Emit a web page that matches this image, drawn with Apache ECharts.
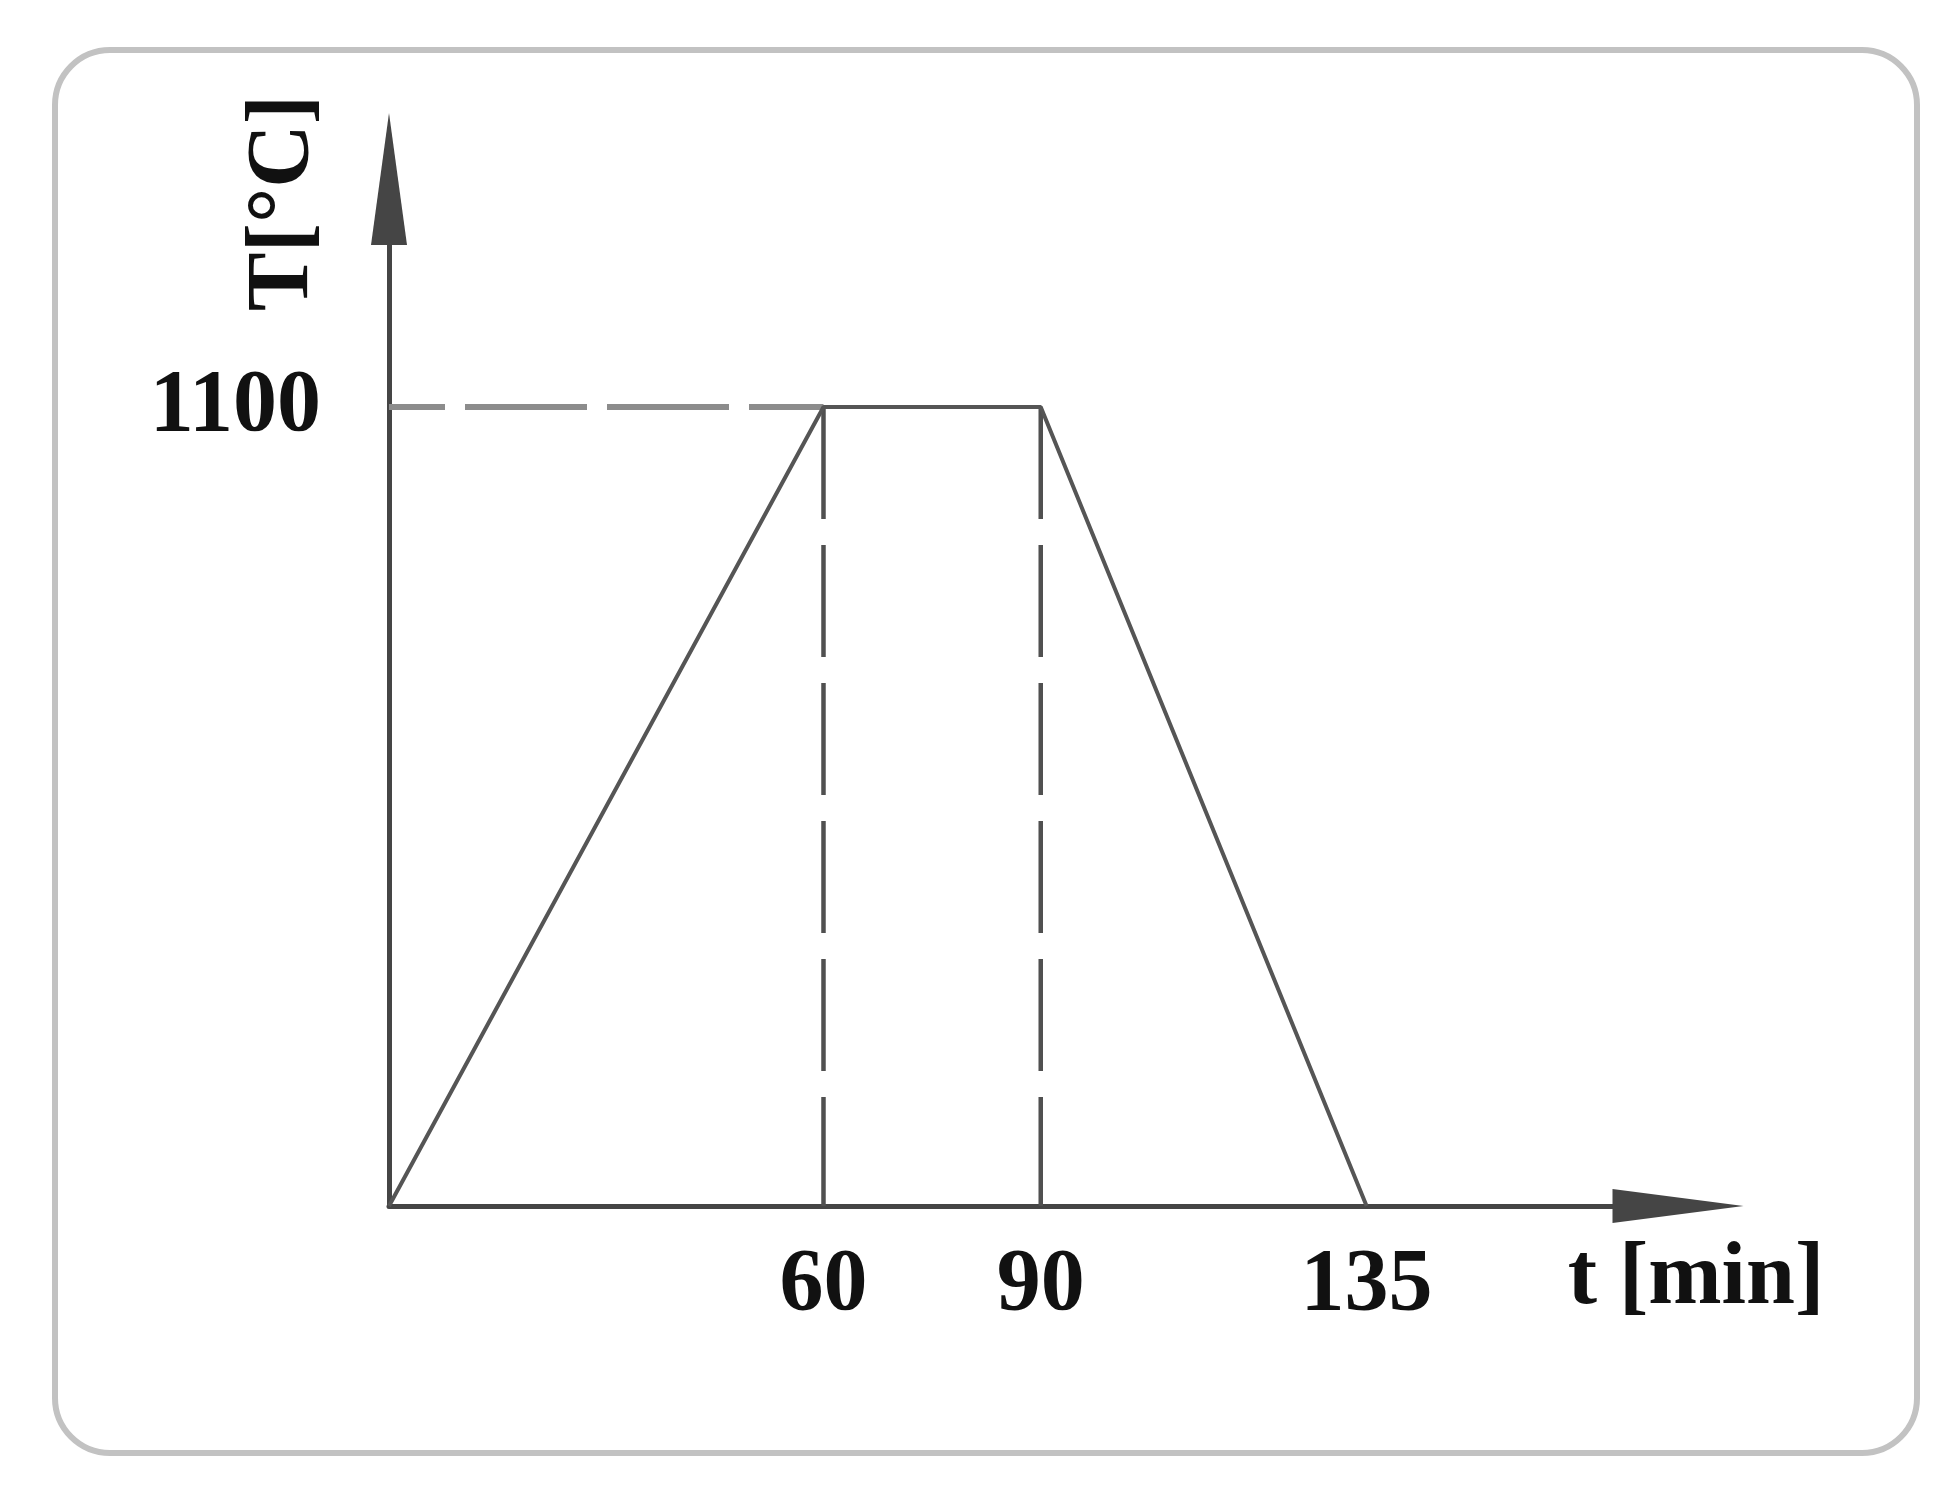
<!DOCTYPE html>
<html>
<head>
<meta charset="utf-8">
<title>T[°C] / t [min]</title>
<script src="https://cdn.jsdelivr.net/npm/echarts@6/dist/echarts.min.js"></script>
<style>
  html, body { margin: 0; padding: 0; background: #fff; }
  #chart { width: 1952px; height: 1511px; }
</style>
</head>
<body>
<div id="chart"></div>
<script>
// profile of the heat treatment: time [min] -> temperature [°C]
const timeMin = [0, 60, 90, 135];
const tempC = [0, 1100, 1100, 0];
// dashed helper lines
const holdTemp = 1100;
const guideTimes = [60, 90];
// tick labels shown on the axes
const xTickLabels = [60, 90, 135];
const yTickLabels = [1100];

const serif = "'Liberation Serif', 'Times New Roman', serif";
const axisColor = '#454545';

const chart = echarts.init(document.getElementById('chart'));

const profile = timeMin.map((t, i) => [t, tempC[i]]);

const series = [
    {
        // horizontal guide at the hold temperature
        type: 'line',
        data: [[0, holdTemp], [guideTimes[0], holdTemp]],
        symbol: 'none',
        silent: true,
        lineStyle: { color: '#8c8c8c', width: 6, type: [122, 20], dashOffset: 66 },
        z: 1
    }
];
guideTimes.forEach((t) => {
    series.push({
        type: 'line',
        data: [[t, holdTemp], [t, 0]],
        symbol: 'none',
        silent: true,
        lineStyle: { color: '#505050', width: 4.5, type: [112, 26] },
        z: 1
    });
});
series.push({
    type: 'line',
    data: profile,
    symbol: 'none',
    lineStyle: { color: '#555', width: 4 },
    z: 3
});

const labelFont = {
    fontFamily: serif,
    fontWeight: 'bold',
    fontSize: 88,
    color: '#111'
};

const option = {
    backgroundColor: '#fff',
    animation: false,
    graphic: [{
        type: 'rect',
        shape: { x: 55, y: 50, width: 1862, height: 1403, r: 55 },
        style: { fill: 'none', stroke: '#c2c2c2', lineWidth: 6 },
        z: -1
    }],
    grid: { left: 389, top: 179, right: 274, bottom: 305 },
    xAxis: {
        type: 'value',
        min: 0,
        max: 178,
        name: 't [min]',
        nameLocation: 'end',
        nameGap: 18,
        nameTextStyle: Object.assign({}, labelFont, {
            align: 'center', verticalAlign: 'top', lineHeight: 88, padding: [30, 0, 0, 0]
        }),
        axisLine: {
            onZero: false,
            symbol: ['none', 'triangle'],
            symbolSize: [34, 131],
            lineStyle: { color: axisColor, width: 5 }
        },
        axisTick: { show: false },
        splitLine: { show: false },
        axisLabel: Object.assign({}, labelFont, {
            customValues: xTickLabels,
            margin: 36,
            formatter: (v) => String(v)
        })
    },
    yAxis: {
        type: 'value',
        min: 0,
        max: 1414,
        name: 'T[°C]',
        nameLocation: 'end',
        nameRotate: 90,
        nameGap: -132,
        nameTextStyle: Object.assign({}, labelFont, {
            align: 'left', verticalAlign: 'bottom', lineHeight: 88, padding: [0, 0, 61, 0]
        }),
        axisLine: {
            onZero: false,
            symbol: ['none', 'triangle'],
            symbolSize: [36, 132],
            lineStyle: { color: axisColor, width: 5 }
        },
        axisTick: { show: false },
        splitLine: { show: false },
        axisLabel: Object.assign({}, labelFont, {
            customValues: yTickLabels,
            margin: 68,
            formatter: (v) => String(v)
        })
    },
    series
};

chart.setOption(option);
</script>
</body>
</html>
